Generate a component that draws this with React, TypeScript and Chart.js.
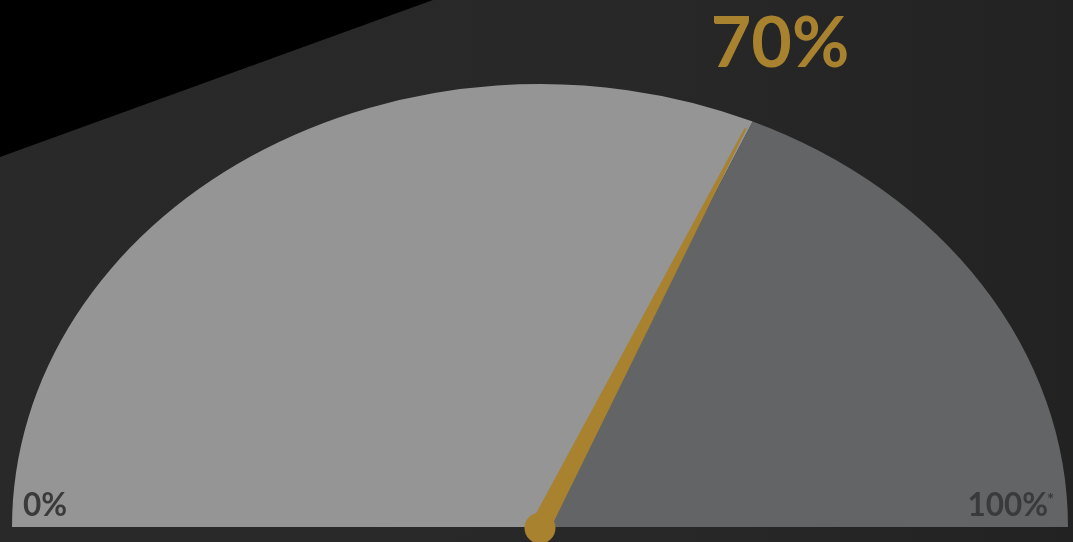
import React, { useEffect, useRef } from "react";
import { Chart, registerables } from "chart.js";

Chart.register(...registerables);

// ---- data ----
const segmentLabels = ["Reached", "Remaining"];
const segmentValues = [63.2, 36.8];
const needleValue = 63.0;
const gaugeMax = 100;
const headlineLabel = "70%";
const scaleLabels = ["0%", "100%"];
const footnoteMark = "*";

// ---- style / layout ----
const W = 1073;
const H = 542;
const RX = 528;
const RY = 443;
const CX = 540;
const CY = 527;
const colors = {
  filled: "#959595",
  rest: "#636465",
  gold: "#a8822e",
  dark: "#3a3a3a",
};

const gaugePlugin = {
  id: "gaugeDecor",
  beforeDraw(chart: any) {
    const ctx = chart.ctx as CanvasRenderingContext2D;
    ctx.save();
    const g = ctx.createLinearGradient(0, 0, W, 0);
    g.addColorStop(0, "#292929");
    g.addColorStop(0.6, "#282828");
    g.addColorStop(1, "#222222");
    ctx.fillStyle = g;
    ctx.fillRect(0, 0, W, H);
    ctx.fillStyle = "#000000";
    ctx.beginPath();
    ctx.moveTo(0, 0);
    ctx.lineTo(433, 0);
    ctx.lineTo(0, 157);
    ctx.closePath();
    ctx.fill();
    ctx.restore();
  },
  beforeDatasetsDraw(chart: any) {
    const ctx = chart.ctx as CanvasRenderingContext2D;
    const arc = chart.getDatasetMeta(0).data[0];
    ctx.save();
    ctx.translate(arc.x, arc.y);
    ctx.scale(1, RY / RX);
    ctx.translate(-arc.x, -arc.y);
  },
  afterDatasetsDraw(chart: any) {
    const ctx = chart.ctx as CanvasRenderingContext2D;
    ctx.restore();
    const arc = chart.getDatasetMeta(0).data[0];
    const cx = arc.x;
    const cy = arc.y;
    const r = arc.outerRadius;
    const ry = r * (RY / RX);

    // needle
    const frac = needleValue / gaugeMax;
    const a = Math.PI * (1 - frac);
    const ux = Math.cos(a) * r;
    const uy = -Math.sin(a) * ry;
    const len = Math.hypot(ux, uy);
    const dx = ux / len;
    const dy = uy / len;
    const nx = -dy;
    const ny = dx;
    const tipLen = len * 0.98;
    const baseW = 10;
    const tipW = 1.0;
    ctx.save();
    ctx.fillStyle = colors.gold;
    ctx.beginPath();
    ctx.moveTo(cx + nx * baseW, cy + ny * baseW);
    ctx.lineTo(cx + dx * tipLen + nx * tipW, cy + dy * tipLen + ny * tipW);
    ctx.lineTo(cx + dx * tipLen - nx * tipW, cy + dy * tipLen - ny * tipW);
    ctx.lineTo(cx - nx * baseW, cy - ny * baseW);
    ctx.closePath();
    ctx.fill();
    ctx.beginPath();
    ctx.arc(cx, cy + 1, 15.5, 0, Math.PI * 2);
    ctx.fill();

    // texts
    ctx.textBaseline = "alphabetic";
    ctx.fillStyle = colors.gold;
    ctx.font = "bold 70px Lato";
    ctx.textAlign = "center";
    ctx.fillText(headlineLabel, 780, 67);

    ctx.fillStyle = colors.dark;
    ctx.font = "bold 31.5px Lato";
    ctx.textAlign = "left";
    ctx.fillText(scaleLabels[0], 23, 515.5);
    ctx.textAlign = "right";
    ctx.fillText(scaleLabels[1], 1048, 515.5);
    ctx.textAlign = "left";
    ctx.font = "bold 17px Lato";
    ctx.fillText(footnoteMark, 1047, 506);
    ctx.restore();
  },
};

export default function App() {
  const canvasRef = useRef<HTMLCanvasElement | null>(null);

  useEffect(() => {
    const canvas = canvasRef.current;
    if (!canvas) return;
    const chart = new Chart(canvas, {
      type: "doughnut",
      data: {
        labels: segmentLabels,
        datasets: [
          {
            data: segmentValues,
            backgroundColor: [colors.filled, colors.rest],
            borderWidth: 0,
            hoverOffset: 0,
            clip: false,
          } as any,
        ],
      },
      options: {
        responsive: false,
        animation: false,
        events: [],
        rotation: -90,
        circumference: 180,
        cutout: 0,
        radius: RX,
        layout: {
          padding: {
            left: CX - RX,
            right: W - (CX + RX),
            top: 0,
            bottom: H - 2 * (CY - RX / 2),
          },
        },
        plugins: {
          legend: { display: false },
          tooltip: { enabled: false },
          title: { display: false },
        },
      } as any,
      plugins: [gaugePlugin],
    });
    return () => chart.destroy();
  }, []);

  return (
    <div
      style={{
        position: "fixed",
        left: 0,
        top: 0,
        width: W,
        height: H,
        overflow: "hidden",
        background: "#282828",
      }}
    >
      <canvas
        ref={canvasRef}
        width={W}
        height={H}
        style={{ display: "block", width: W, height: H }}
      />
    </div>
  );
}
